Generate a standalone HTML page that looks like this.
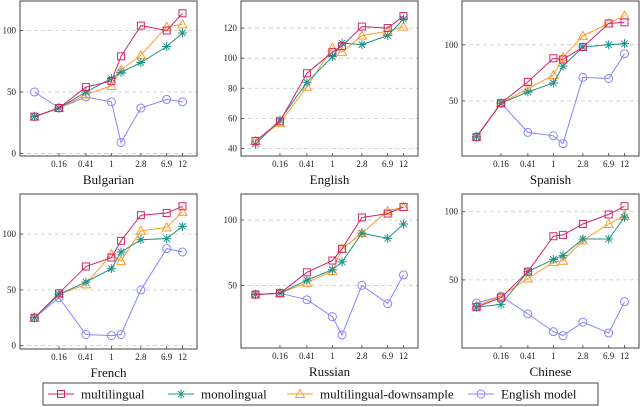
<!DOCTYPE html>
<html><head><meta charset="utf-8"><style>
html,body{margin:0;padding:0;background:#fff}
svg{display:block;font-family:"Liberation Serif",serif}
</style></head><body>
<svg id="c" width="640" height="407" viewBox="0 0 640 407"></svg>
<script>
const xValues=[0.068,0.16,0.41,1,1.4,2.8,6.9,12];
const xTickValues=[0.16,0.41,1,2.8,6.9,12];
const xTickLabels=["0.16","0.41","1","2.8","6.9","12"];
const seriesNames=["multilingual","monolingual","multilingual-downsample","English model"];
const languages=["Bulgarian","English","Spanish","French","Russian","Chinese"];
const bgMulti=[30,37,54,59,79,104,100,114];
const bgMono=[30,37,50,61,66,74,87,98];
const bgDown=[30,37,48,55,68,80,103,105];
const bgEng=[50,37,46,42,9,37,44,42];
const enMulti=[45,58,90,104,108,121,120,128];
const enMono=[43,59,84,101,110,109,115,126];
const enDown=[45,57,81,107,104,115,118,121];
const esMulti=[18,48,67,88,87,98,119,120];
const esMono=[18,48,58,66,81,98,100,101];
const esDown=[18,48,61,73,89,108,119,126];
const esEng=[18,48,22,19,12,71,70,92];
const frMulti=[25,47,71,79,94,117,119,125];
const frMono=[25,46,57,69,84,95,96,107];
const frDown=[25,46,55,82,76,103,106,120];
const frEng=[25,43,10,9,10,50,87,84];
const ruMulti=[43,44,60,69,78,102,105,110];
const ruMono=[43,44,54,62,68,90,86,97];
const ruDown=[43,44,52,61,78,90,107,110];
const ruEng=[43,44,39,26,12,50,36,58];
const zhMulti=[30,37,56,82,83,91,98,104];
const zhMono=[30,32,56,65,68,80,80,96];
const zhDown=[31,38,51,63,64,79,91,97];
const zhEng=[33,38,25,12,9,19,11,34];
const yTicksA=[0,50,100];
const yTicksEn=[40,60,80,100,120];
const yTicksB=[50,100];

const panels=[
 {name:languages[0],l:20,r:197,t:1,b:156,ymin:-2,ymax:124,ticks:yTicksA,data:[bgMulti,bgMono,bgDown,bgEng]},
 {name:languages[1],l:241,r:418,t:1,b:156,ymin:35,ymax:138,ticks:yTicksEn,data:[enMulti,enMono,enDown,null]},
 {name:languages[2],l:462,r:639,t:1,b:156,ymin:1,ymax:139,ticks:yTicksB,data:[esMulti,esMono,esDown,esEng]},
 {name:languages[3],l:20,r:197,t:194,b:349,ymin:-3,ymax:136,ticks:yTicksA,data:[frMulti,frMono,frDown,frEng]},
 {name:languages[4],l:241,r:418,t:194,b:348,ymin:2,ymax:120,ticks:yTicksB,data:[ruMulti,ruMono,ruDown,ruEng]},
 {name:languages[5],l:462,r:639,t:194,b:348,ymin:0,ymax:113,ticks:yTicksB,data:[zhMulti,zhMono,zhDown,zhEng]}
];
const colors=["#d0266e","#21928a","#ff9a2a","#8585ff"];
const shapes=["square","star","tri","circle"];
const NS="http://www.w3.org/2000/svg";
const svg=document.getElementById('c');
function mk(tag,attrs,parent){const e=document.createElementNS(NS,tag);for(const k in attrs)e.setAttribute(k,attrs[k]);(parent||svg).appendChild(e);return e;}
function marker(g,shape,x,y,col){
 let m;
 if(shape==="square") m=mk('rect',{x:x-3.5,y:y-3.5,width:7,height:7,fill:'none',stroke:col,'stroke-width':1},g);
 else if(shape==="circle") m=mk('circle',{cx:x,cy:y,r:4,fill:'none',stroke:col,'stroke-width':1},g);
 else if(shape==="tri") m=mk('polygon',{points:`${x},${y-4.5} ${x-4.5},${y+3.5} ${x+4.5},${y+3.5}`,fill:'none',stroke:col,'stroke-width':1},g);
 else {m=mk('path',{d:`M${x-4.5},${y}H${x+4.5}M${x},${y-4.5}V${y+4.5}M${x-3.2},${y-3.2}L${x+3.2},${y+3.2}M${x-3.2},${y+3.2}L${x+3.2},${y-3.2}`,stroke:col,'stroke-width':1,fill:'none'},g);}
 return m;
}
panels.forEach((p,pi)=>{
 const g=mk('g',{});
 
 
 const lmin=Math.log10(xValues[0]),lmax=Math.log10(xValues[xValues.length-1]);
 const x0=p.l+14.5,x1=p.r-14.5;
 const xs=v=>x0+(Math.log10(v)-lmin)/(lmax-lmin)*(x1-x0);
 const ys=v=>p.b-(v-p.ymin)/(p.ymax-p.ymin)*(p.b-p.t);
 p.ticks.forEach(t=>{
  const y=ys(t);
  const gl=mk('line',{x1:p.l,x2:p.r,y1:y,y2:y,stroke:'#c8c8c8','stroke-width':0.8,'stroke-dasharray':'4 3'},g);
  
  
  mk('line',{x1:p.l,x2:p.l+3,y1:y,y2:y,stroke:'#444','stroke-width':0.8},g);
  const tx=mk('text',{x:p.l-4,y:y+3,'font-size':9,'text-anchor':'end',fill:'#222'},g);
  tx.textContent=t;
  
  
 });
 xTickValues.forEach((v,i)=>{
  const x=xs(v);
  mk('line',{x1:x,x2:x,y1:p.b,y2:p.b-3,stroke:'#444','stroke-width':0.8},g);
  const tx=mk('text',{x:x,y:p.b+11,'font-size':9,'text-anchor':'middle',fill:'#222'},g);
  tx.textContent=xTickLabels[i];
  
  
 });
 const fr=mk('rect',{x:p.l,y:p.t,width:p.r-p.l,height:p.b-p.t,fill:'none',stroke:'#444','stroke-width':1},g);
 
 
 const ti=mk('text',{x:(p.l+p.r)/2,y:p.b+28,'font-size':13,'text-anchor':'middle',fill:'#111'},g);
 ti.textContent=p.name;
 
 
 [3,2,1,0].forEach(si=>{
  const d=p.data[si]; if(!d) return;
  const sg=mk('g',{},g);
  
  
  const pts=d.map((v,i)=>xs(xValues[i]).toFixed(1)+','+ys(v).toFixed(1)).join(' ');
  mk('polyline',{points:pts,fill:'none',stroke:colors[si],'stroke-width':1},sg);
  d.forEach((v,i)=>{
   const m=marker(sg,shapes[si],xs(xValues[i]),ys(v),colors[si]);
   
   
  });
 });
});
// legend
const lg=mk('g',{});


mk('rect',{x:43,y:383,width:555,height:22,fill:'#fff',stroke:'#444','stroke-width':1},lg);
const entryX=[48,168,287,468];
seriesNames.forEach((n,i)=>{
 const eg=mk('g',{},lg);
 
 
 const x=entryX[i],y=394;
 mk('line',{x1:x,x2:x+26,y1:y,y2:y,stroke:colors[i],'stroke-width':1},eg);
 marker(eg,shapes[i],x+13,y,colors[i]);
 const t=mk('text',{x:x+33,y:y+4.5,'font-size':13,fill:'#111'},eg);
 t.textContent=n;
});
</script>
</body></html>
